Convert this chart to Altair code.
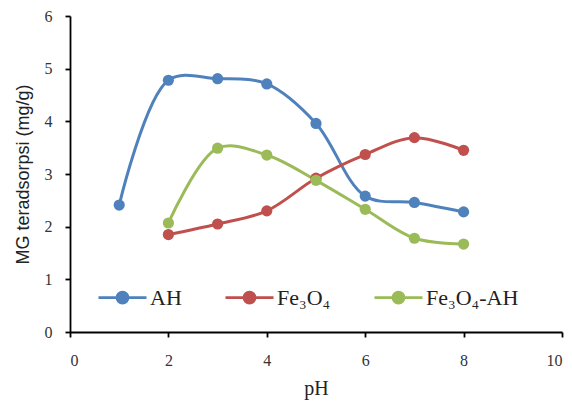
import altair as alt
import pandas as pd

ph_ah = [1, 2, 3, 4, 5, 6, 7, 8]
ah = [2.41, 4.78, 4.81, 4.71, 3.96, 2.58, 2.46, 2.28]
ph_fe = [2, 3, 4, 5, 6, 7, 8]
fe3o4 = [1.85, 2.05, 2.30, 2.92, 3.37, 3.69, 3.45]
fe3o4_ah = [2.07, 3.49, 3.36, 2.88, 2.33, 1.78, 1.67]

series_names = ["AH", "Fe\u2083O\u2084", "Fe\u2083O\u2084-AH"]
colors = ["#4F81BD", "#C0504D", "#9BBB59"]

rows = []
for x, v in zip(ph_ah, ah):
    rows.append({"pH": x, "val": v, "series": series_names[0]})
for x, v in zip(ph_fe, fe3o4):
    rows.append({"pH": x, "val": v, "series": series_names[1]})
for x, v in zip(ph_fe, fe3o4_ah):
    rows.append({"pH": x, "val": v, "series": series_names[2]})
df = pd.DataFrame(rows)

r = 0.23
sym = f"M-1,0H1M-{r},0A{r},{r},0,1,1,{r},0A{r},{r},0,1,1,-{r},0Z"

color = alt.Color(
    "series:N",
    scale=alt.Scale(domain=series_names, range=colors),
    sort=series_names,
    legend=alt.Legend(
        title=None,
        orient="none",
        legendX=27,
        legendY=256,
        direction="horizontal",
        symbolType=sym,
        symbolSize=2304,
        symbolStrokeWidth=2.8,
        labelFont="Liberation Serif",
        labelFontSize=22,
        labelColor="#222",
        columnPadding=37,
        labelOffset=2,
    ),
)

x = alt.X(
    "pH:Q",
    scale=alt.Scale(domain=[0, 10]),
    axis=alt.Axis(values=[0, 2, 4, 6, 8, 10], title="pH", grid=False, labelPadding=15),
)
y = alt.Y(
    "val:Q",
    scale=alt.Scale(domain=[0, 6]),
    axis=alt.Axis(values=[0, 1, 2, 3, 4, 5, 6], title="MG teradsorpsi (mg/g)", grid=False,
                  labelPadding=13),
)

base = alt.Chart(df)
lines = base.mark_line(interpolate="catmull-rom", strokeWidth=3).encode(x=x, y=y, color=color)
points = base.mark_point(filled=True, size=125, opacity=1).encode(x=x, y=y, color=color)

chart = (
    alt.layer(lines, points)
    .properties(width=492, height=316, autosize=alt.AutoSizeParams(type="none"),
                padding={"left": 62, "top": 8, "right": 2, "bottom": 70})
    .configure_view(stroke=None)
    .configure_axis(
        domainColor="#000",
        domainWidth=1.8,
        tickColor="#000",
        tickWidth=1.8,
        tickSize=5,
        labelFont="Liberation Serif",
        labelFontSize=16,
        labelColor="#333",
    )
    .configure_axisY(
        titleFont="Liberation Sans",
        titleFontSize=18,
        titleFontWeight="normal",
        titleColor="#222",
        titlePadding=12,
    )
    .configure_axisX(
        titleFont="Liberation Serif",
        titleFontSize=20,
        titleFontWeight="normal",
        titleColor="#222",
        titlePadding=10,
    )
)

chart.save("out.html", embed_options={"renderer": "svg", "actions": False})
